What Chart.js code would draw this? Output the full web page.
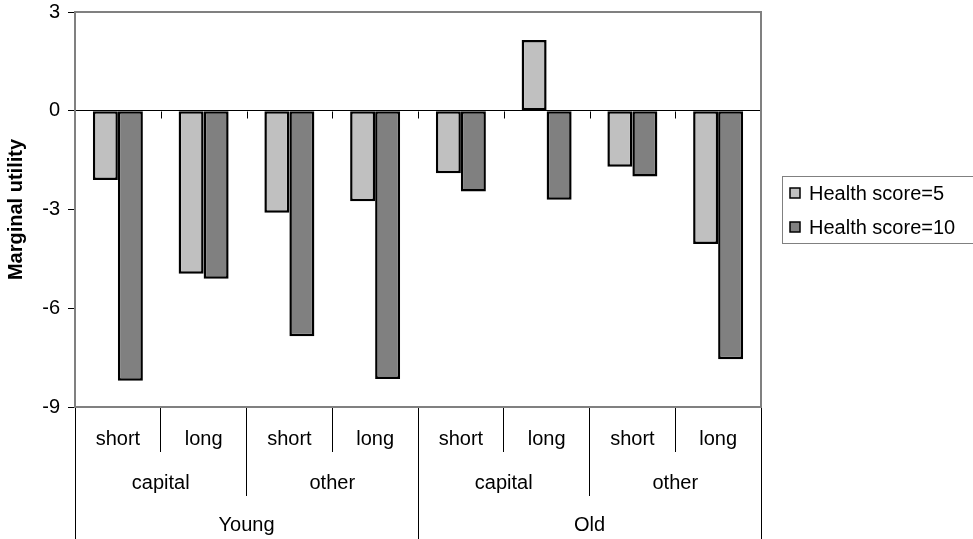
<!DOCTYPE html>
<html>
<head>
<meta charset="utf-8">
<script src="https://cdn.jsdelivr.net/npm/chart.js@4.4.1/dist/chart.umd.min.js"></script>
<style>
  html, body { margin: 0; padding: 0; background: #fff; }
  #wrap { width: 973px; height: 539px; }
</style>
</head>
<body>
<div id="wrap"><canvas id="chart" width="973" height="539"></canvas></div>
<script>
// Valores
const terms = ['short', 'long', 'short', 'long', 'short', 'long', 'short', 'long'];
const places = ['capital', 'other', 'capital', 'other'];
const ages = ['Young', 'Old'];
const health5 = [-2.1, -4.95, -3.1, -2.75, -1.9, 2.15, -1.7, -4.05];
const health10 = [-8.2, -5.1, -6.85, -8.15, -2.45, -2.7, -2.0, -7.55];
const seriesNames = ['Health score=5', 'Health score=10'];
const yMin = -9, yMax = 3, yStep = 3;

const FONT = "'Liberation Sans', Arial, sans-serif";

// Moldura cinza da área do gráfico + traços no eixo zero
const frame = {
  id: 'frame',
  beforeDatasetsDraw(chart) {
    const { ctx, chartArea: a, scales } = chart;
    const y0 = Math.round(scales.y.getPixelForValue(0)) + 0.5;
    const step = a.width / terms.length;
    ctx.save();
    ctx.strokeStyle = '#000';
    ctx.lineWidth = 1;
    ctx.beginPath();
    for (let i = 1; i <= terms.length; i++) {
      const x = Math.round(a.left + i * step) + 0.5;
      ctx.moveTo(x, y0);
      ctx.lineTo(x, y0 + 7);
    }
    ctx.stroke();
    ctx.restore();
  },
  afterDatasetsDraw(chart) {
    const { ctx, chartArea: a } = chart;
    ctx.save();
    ctx.strokeStyle = '#808080';
    ctx.lineWidth = 2;
    ctx.strokeRect(a.left, a.top, a.right - a.left, a.bottom - a.top);
    ctx.restore();
  }
};

// Legenda com caixa, como no original
const boxLegend = {
  id: 'boxLegend',
  afterDraw(chart) {
    const { ctx } = chart;
    ctx.save();
    ctx.strokeStyle = '#808080';
    ctx.lineWidth = 1;
    ctx.strokeRect(782.5, 176.5, 200, 67);
    ctx.font = '20px ' + FONT;
    ctx.textBaseline = 'middle';
    ctx.textAlign = 'left';
    chart.data.datasets.forEach((ds, i) => {
      const cy = 193 + i * 34;
      ctx.fillStyle = ds.backgroundColor;
      ctx.fillRect(790, cy - 5, 10, 10);
      ctx.strokeStyle = '#000';
      ctx.lineWidth = 1.5;
      ctx.strokeRect(790, cy - 5, 10, 10);
      ctx.fillStyle = '#000';
      ctx.fillText(ds.label, 809, cy + 1);
    });
    ctx.restore();
  }
};

function rowAxis(labels, height, padding) {
  return {
    type: 'category',
    position: 'bottom',
    labels: labels,
    offset: true,
    grid: {
      offset: true,
      drawOnChartArea: false,
      drawTicks: true,
      tickLength: height,
      color: '#000',
      lineWidth: 1
    },
    border: { display: false },
    ticks: {
      autoSkip: false,
      maxRotation: 0,
      color: '#000',
      font: { family: FONT, size: 20 },
      padding: padding
    },
    afterFit(scale) { scale.height = height; }
  };
}

const config = {
  type: 'bar',
  data: {
    labels: terms,
    datasets: [{
      label: seriesNames[0],
      data: health5,
      backgroundColor: '#C0C0C0',
      borderColor: '#000',
      borderWidth: 2.5,
      borderSkipped: false,
      xAxisID: 'x'
    }, {
      label: seriesNames[1],
      data: health10,
      backgroundColor: '#808080',
      borderColor: '#000',
      borderWidth: 2.5,
      borderSkipped: false,
      xAxisID: 'x'
    }]
  },
  options: {
    responsive: false,
    animation: false,
    devicePixelRatio: 1,
    layout: { padding: { top: 12, right: 212, left: 0, bottom: 0 } },
    datasets: { bar: { categoryPercentage: 0.583, barPercentage: 1 } },
    plugins: {
      legend: { display: false },
      tooltip: { enabled: false }
    },
    scales: {
      x: rowAxis(terms, 45, -25),
      x2: rowAxis(places, 44, -25),
      x3: rowAxis(ages, 43, -26),
      y: {
        min: yMin,
        max: yMax,
        ticks: {
          stepSize: yStep,
          color: '#000',
          font: { family: FONT, size: 20 },
          padding: 8
        },
        grid: {
          color: ctx => ctx.tick && ctx.tick.value === 0 ? '#000' : 'transparent',
          tickColor: '#000',
          tickLength: 7,
          lineWidth: 1
        },
        border: { display: false },
        title: {
          display: true,
          text: 'Marginal utility',
          color: '#000',
          font: { family: FONT, size: 20, weight: 'bold' },
          padding: { top: 4, bottom: 0 }
        },
        afterFit(scale) {
          scale.width = 75;
          scale.paddingTop = 0;
          scale.paddingBottom = 0;
        }
      }
    }
  },
  plugins: [frame, boxLegend]
};

const myChart = new Chart(document.getElementById('chart'), config);
</script>
</body>
</html>
